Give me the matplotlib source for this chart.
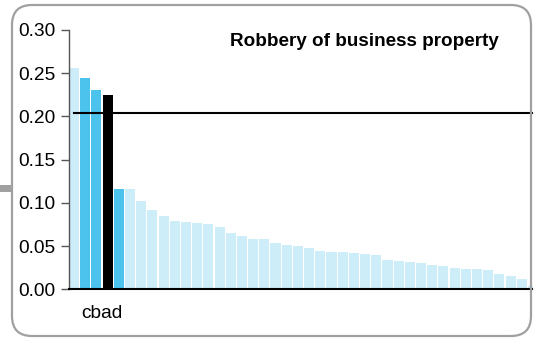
import numpy as np
import matplotlib
matplotlib.use("Agg")
import matplotlib.pyplot as plt
from matplotlib.patches import FancyBboxPatch, Rectangle

plt.rcParams['font.family'] = ['Liberation Sans', 'DejaVu Sans']

# values, sorted descending
values = [0.256, 0.244, 0.231, 0.225, 0.116, 0.116, 0.102, 0.092, 0.085, 0.0795,
          0.078, 0.077, 0.076, 0.072, 0.0656, 0.062, 0.0587, 0.0587, 0.0537, 0.0513,
          0.050, 0.0475, 0.0447, 0.0436, 0.0428, 0.0417, 0.0409, 0.0397, 0.034, 0.0332,
          0.0313, 0.0308, 0.0282, 0.0274, 0.0247, 0.0239, 0.0232, 0.0227, 0.0177, 0.015,
          0.012, 0.0038]
peer_idx = [1, 2, 4]     # comparison group
focus_idx = 3            # "cbad"
focus_label = "cbad"
threshold = 0.204
yticks = [0.00, 0.05, 0.10, 0.15, 0.20, 0.25, 0.30]
title = "Robbery of business property"

LIGHT = '#CDEDF9'
MID = '#4CC3EC'

W, H = 533, 338
fig = plt.figure(figsize=(W / 100, H / 100), dpi=100)

# rounded frame around the panel (pixel coords)
frame = FancyBboxPatch((12, 2), 519, 331, boxstyle="round,pad=0,rounding_size=20",
                       transform=None, facecolor='none', edgecolor='#a0a0a0',
                       linewidth=1.6, zorder=0)
fig.patches.append(frame)
fig.patches.append(Rectangle((0, 146), 11, 7, transform=None,
                             facecolor='#a0a0a0', edgecolor='none'))

ax = fig.add_axes([69 / W, (H - 289.3) / H, (W - 69) / W, (289.3 - 30) / H])
ax.patch.set_alpha(0)

x = np.arange(len(values))
colors = [LIGHT] * len(values)
for i in peer_idx:
    colors[i] = MID
colors[focus_idx] = 'black'
ax.bar(x, values, width=0.9, color=colors, zorder=2)
ax.plot([0, len(values)], [threshold, threshold], color='black', lw=1.5, zorder=3)

ax.set_xlim(-0.45, 41.0)
ax.set_ylim(0, 0.30)
ax.set_yticks(yticks)
ax.set_yticklabels([f"{t:.2f}" for t in yticks])
ax.tick_params(axis='y', direction='out', length=6, width=1, color='#555555',
               labelsize=13.8, pad=4)
ax.set_xticks([])
for s in ['top', 'right']:
    ax.spines[s].set_visible(False)
ax.spines['left'].set_color('#555555')
ax.spines['left'].set_linewidth(1)
ax.spines['bottom'].set_color('black')
ax.spines['bottom'].set_linewidth(1.5)
ax.spines['bottom'].set_zorder(4)

ax.text(2.5, -0.028, focus_label, ha='center', va='center', fontsize=13.8)
ax.text(0.637, 0.954, title, transform=ax.transAxes, ha='center', va='center',
        fontsize=13.6, fontweight='bold')

fig.savefig("out.png", dpi=100)
